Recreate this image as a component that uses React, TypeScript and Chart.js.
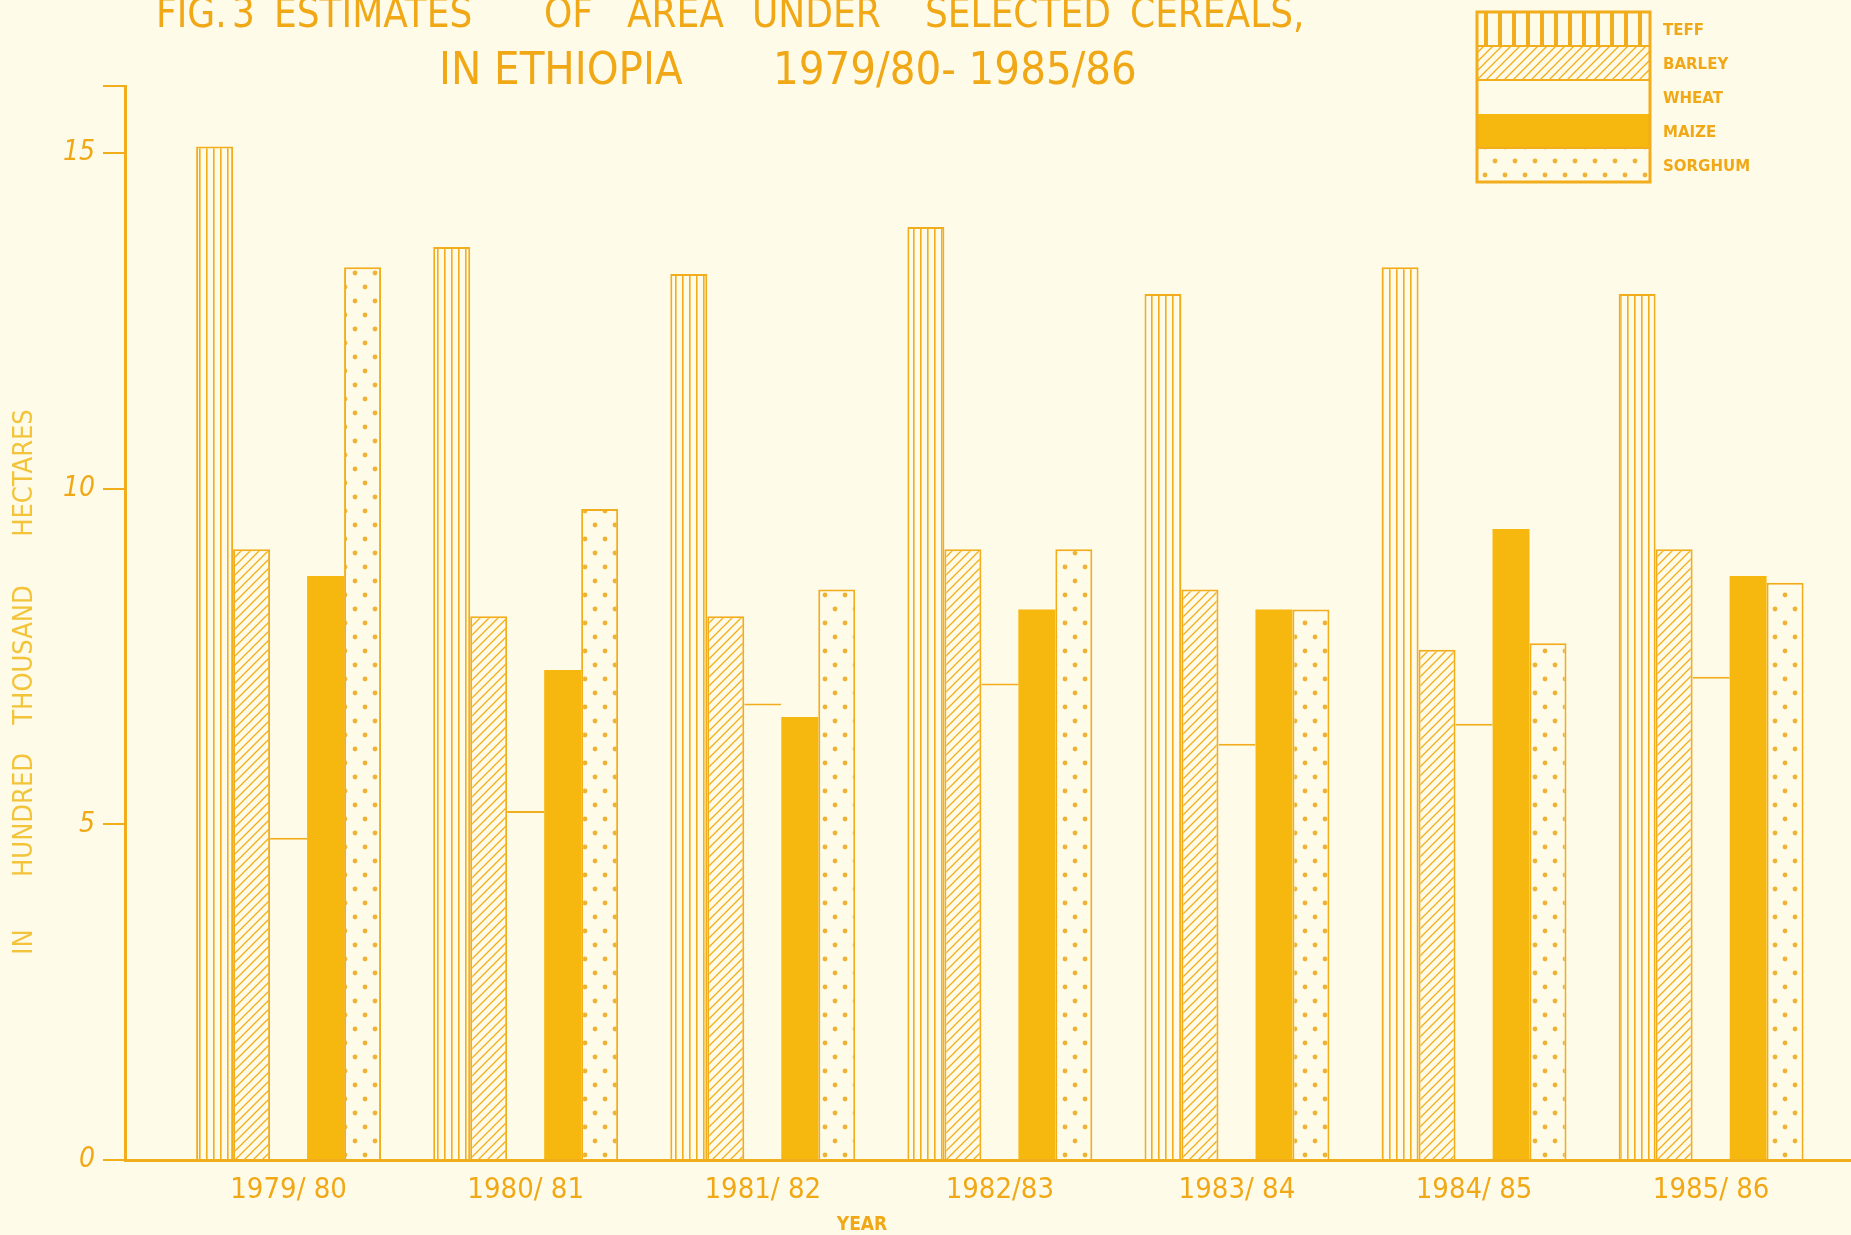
import React, { useEffect, useRef } from 'react';
import { Chart, registerables } from 'chart.js';

Chart.register(...registerables);

// ---- data ----
const CATEGORIES = ['1979/ 80', '1980/ 81', '1981/ 82', '1982/83', '1983/ 84', '1984/ 85', '1985/ 86'];
const SERIES = ['TEFF', 'BARLEY', 'WHEAT', 'MAIZE', 'SORGHUM'];
const TEFF = [15.1, 13.6, 13.2, 13.9, 12.9, 13.3, 12.9];
const BARLEY = [9.1, 8.1, 8.1, 9.1, 8.5, 7.6, 9.1];
const WHEAT = [4.8, 5.2, 6.8, 7.1, 6.2, 6.5, 7.2];
const MAIZE = [8.7, 7.3, 6.6, 8.2, 8.2, 9.4, 8.7];
const SORGHUM = [13.3, 9.7, 8.5, 9.1, 8.2, 7.7, 8.6];
const Y_TICKS = [0, 5, 10, 15];
const TITLE_LINE1 = ['FIG.', '3', 'ESTIMATES', 'OF', 'AREA', 'UNDER', 'SELECTED', 'CEREALS,'];
const TITLE_LINE2 = ['IN ETHIOPIA', '1979/80- 1985/86'];
const Y_TITLE = ['IN', 'HUNDRED', 'THOUSAND', 'HECTARES'];
const X_TITLE = 'YEAR';

// ---- styles ----
const BG = '#fffbe9';
const ORANGE = '#f1a816';
const LINE = '#f2ad1c';
const MAIZE_FILL = '#f6b70e';
const NARROW = '"Liberation Sans Narrow", "DejaVu Sans Condensed", "Roboto Condensed", "Liberation Sans", sans-serif';

function makeCanvas(w: number, h: number) {
  const c = document.createElement('canvas');
  c.width = w;
  c.height = h;
  const g = c.getContext('2d')!;
  g.fillStyle = BG;
  g.fillRect(0, 0, w, h);
  return { c, g };
}

function teffPattern(ctx: CanvasRenderingContext2D) {
  const { c, g } = makeCanvas(7, 4);
  g.fillStyle = LINE;
  g.fillRect(3, 0, 1.6, 4);
  return ctx.createPattern(c, 'repeat')!;
}

function barleyPattern(ctx: CanvasRenderingContext2D) {
  const s = 9;
  const { c, g } = makeCanvas(s, s);
  g.strokeStyle = LINE;
  g.lineWidth = 1.3;
  g.beginPath();
  g.moveTo(0, s); g.lineTo(s, 0);
  g.moveTo(-s / 2, s / 2); g.lineTo(s / 2, -s / 2);
  g.moveTo(s / 2, s * 1.5); g.lineTo(s * 1.5, s / 2);
  g.stroke();
  return ctx.createPattern(c, 'repeat')!;
}

function sorghumPattern(ctx: CanvasRenderingContext2D) {
  const { c, g } = makeCanvas(20, 28);
  g.fillStyle = '#f0b232';
  g.beginPath(); g.arc(5, 7, 2.4, 0, Math.PI * 2); g.fill();
  g.beginPath(); g.arc(15, 21, 2.4, 0, Math.PI * 2); g.fill();
  return ctx.createPattern(c, 'repeat')!;
}

function legendTeffPattern(ctx: CanvasRenderingContext2D) {
  const { c, g } = makeCanvas(14, 4);
  g.fillStyle = LINE;
  g.fillRect(0, 0, 4, 4);
  return ctx.createPattern(c, 'repeat')!;
}

const decorPlugin = {
  id: 'decor',
  beforeDraw(chart: any) {
    const { ctx, width, height } = chart;
    ctx.save();
    ctx.fillStyle = BG;
    ctx.fillRect(0, 0, width, height);
    ctx.restore();
  },
  afterDraw(chart: any) {
    const { ctx } = chart;
    ctx.save();
    ctx.fillStyle = ORANGE;
    ctx.textBaseline = 'alphabetic';
    ctx.textAlign = 'left';
    // title line 1 (top is cut off by the page edge)
    ctx.font = `40px ${NARROW}`;
    const x1 = [156, 232, 274, 544, 627, 752, 925, 1130];
    TITLE_LINE1.forEach((w, i) => ctx.fillText(w, x1[i], 27));
    // title line 2
    ctx.font = `45px ${NARROW}`;
    const x2 = [439, 773];
    TITLE_LINE2.forEach((w, i) => ctx.fillText(w, x2[i], 84));

    // y axis title, word by word
    const yc = [942, 815, 655, 473];
    ctx.fillStyle = '#f3c43a';
    ctx.font = `27px ${NARROW}`;
    ctx.textAlign = 'center';
    ctx.textBaseline = 'middle';
    Y_TITLE.forEach((w, i) => {
      ctx.save();
      ctx.translate(25, yc[i]);
      ctx.rotate(-Math.PI / 2);
      ctx.fillText(w, 0, 0);
      ctx.restore();
    });

    // x axis title
    ctx.fillStyle = ORANGE;
    ctx.font = `bold 19px ${NARROW}`;
    ctx.textAlign = 'center';
    ctx.textBaseline = 'alphabetic';
    ctx.fillText(X_TITLE, 862, 1230);

    // legend
    const lx = 1477, ly = 12, lw = 173, rh = 34;
    const sets = chart.data.datasets;
    sets.forEach((ds: any, i: number) => {
      const y = ly + i * rh;
      ctx.fillStyle = i === 0 ? legendTeffPattern(ctx) : ds.backgroundColor;
      ctx.fillRect(lx, y, lw, rh);
    });
    ctx.strokeStyle = LINE;
    ctx.lineWidth = 3;
    ctx.strokeRect(lx, ly, lw, rh * sets.length);
    ctx.lineWidth = 2;
    ctx.beginPath();
    ctx.moveTo(lx, ly + rh); ctx.lineTo(lx + lw, ly + rh);
    ctx.moveTo(lx, ly + 2 * rh); ctx.lineTo(lx + lw, ly + 2 * rh);
    ctx.moveTo(lx, ly + 4 * rh); ctx.lineTo(lx + lw, ly + 4 * rh);
    ctx.stroke();
    ctx.fillStyle = ORANGE;
    ctx.font = `bold 15px "DejaVu Sans", sans-serif`;
    ctx.textAlign = 'left';
    ctx.textBaseline = 'middle';
    sets.forEach((ds: any, i: number) => {
      ctx.fillText(ds.label, 1663, ly + i * rh + rh / 2 + 2);
    });
    ctx.restore();
  },
};

export default function App() {
  const ref = useRef<HTMLCanvasElement | null>(null);

  useEffect(() => {
    document.body.style.margin = '0';
    document.body.style.background = BG;
    const canvas = ref.current!;
    const ctx = canvas.getContext('2d')!;
    const toXY = (arr: number[]) => arr.map((v, i) => ({ x: i, y: v }));
    const values = [TEFF, BARLEY, WHEAT, MAIZE, SORGHUM];
    const fills = [teffPattern(ctx), barleyPattern(ctx), BG, MAIZE_FILL, sorghumPattern(ctx)];
    const borders: any[] = [2, 2, { top: 2, left: 0, right: 0, bottom: 0 }, 0, 2];

    const chart = new Chart(canvas, {
      type: 'bar',
      data: {
        datasets: SERIES.map((label, i) => ({
          label,
          data: toXY(values[i]),
          backgroundColor: fills[i],
          borderColor: LINE,
          borderWidth: borders[i],
          borderSkipped: 'bottom',
          categoryPercentage: 0.78,
          barPercentage: 1.0,
        })),
      },
      options: {
        responsive: false,
        animation: false,
        layout: { padding: { top: 86, left: 0, right: 0, bottom: 0 } },
        plugins: {
          legend: { display: false },
          title: { display: false },
          tooltip: { enabled: false },
        },
        scales: {
          x: {
            type: 'linear',
            offset: false,
            min: -0.69,
            max: 6.59,
            grid: { display: false, drawTicks: false, offset: false },
            border: { display: true, color: LINE, width: 3 },
            ticks: {
              stepSize: 1,
              includeBounds: false,
              autoSkip: false,
              maxRotation: 0,
              padding: 13,
              color: ORANGE,
              font: { family: NARROW, size: 29 },
              callback: (v: any) => (Number.isInteger(v) && CATEGORIES[v] !== undefined ? CATEGORIES[v] : ''),
            },
            afterFit: (scale: any) => { scale.height = 75; },
          },
          y: {
            min: 0,
            max: 16,
            grid: {
              display: true,
              drawOnChartArea: false,
              drawTicks: true,
              tickLength: 22,
              tickColor: LINE,
              lineWidth: 2,
            },
            border: { display: true, color: LINE, width: 3 },
            ticks: {
              stepSize: 5,
              padding: 8,
              color: ORANGE,
              font: { family: NARROW, size: 28, style: 'italic' },
              callback: (v: any) => (Y_TICKS.includes(v) ? String(v) : ''),
            },
            title: { display: false },
            afterFit: (scale: any) => { scale.width = 125; },
          },
        },
      },
      plugins: [decorPlugin],
    });
    return () => chart.destroy();
  }, []);

  return (
    <div style={{ width: 1851, height: 1235, background: BG }}>
      <canvas ref={ref} width={1851} height={1235} style={{ display: 'block' }} />
    </div>
  );
}
